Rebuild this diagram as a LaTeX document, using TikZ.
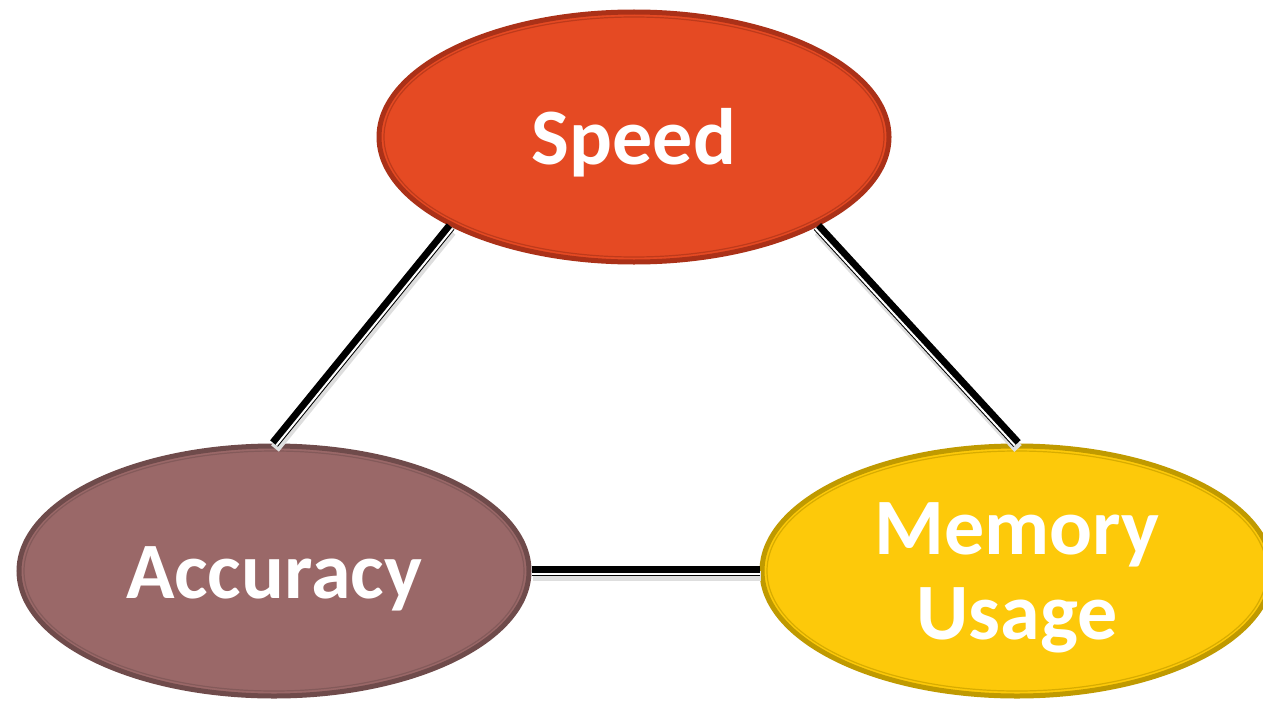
\documentclass[tikz,border=0pt]{standalone}
\usepackage{fontspec}
\setmainfont{Carlito}
\usetikzlibrary{shapes.geometric}
\definecolor{speedfill}{HTML}{E54A23}
\definecolor{speedrim}{HTML}{AB3118}
\definecolor{speedline}{HTML}{BE3A1B}
\definecolor{accfill}{HTML}{9A6868}
\definecolor{accrim}{HTML}{6F4B4B}
\definecolor{accline}{HTML}{845A5A}
\definecolor{memfill}{HTML}{FDC90A}
\definecolor{memrim}{HTML}{C09A00}
\definecolor{memline}{HTML}{D8AC00}
% black bar, white stripe on one side, soft shadow under it
\newcommand\tradeoff[3]{%
  \draw[shade] ([shift={(1,5)}]#1) -- ([shift={(1,5)}]#2);
  \draw[link] (#1) -- (#2);
  \draw[stripe] ([shift={#3}]#1) -- ([shift={#3}]#2);}
\begin{document}
\begin{tikzpicture}[x=1pt,y=-1pt,
  blob/.style={ellipse,line width=5pt,minimum width=510pt,minimum height=250pt,
    inner sep=0pt,text=white,align=center,
    font=\fontsize{80}{85}\selectfont\bfseries},
  link/.style={line width=10pt},
  stripe/.style={white,line width=2pt},
  shade/.style={black!13,line width=10pt}]
\useasboundingbox (0,0) rectangle (1263,701);
\def\rx{250}
\def\ry{120}
\def\up{\rule{0pt}{68pt}}
% the three goals
\node[blob,fill=speedfill,draw=speedrim] (speed) at (634,137) {\up Speed};
\node[blob,fill=accfill,draw=accrim] (acc) at (274,571) {\up Accuracy};
\node[blob,fill=memfill,draw=memrim] (mem) at (1017,571) {\rule{0pt}{66pt}Memory\\Usage};
\draw[speedline,line width=1.2pt] (speed.center) ellipse [x radius=\rx,y radius=\ry];
\draw[accline,line width=1.2pt] (acc.center) ellipse [x radius=\rx,y radius=\ry];
\draw[memline,line width=1.2pt] (mem.center) ellipse [x radius=\rx,y radius=\ry];
% trade-offs
\tradeoff{speed.206}{acc.north}{(2.3,1.9)}
\tradeoff{speed.334}{mem.north}{(-2.2,2)}
\tradeoff{acc.east}{mem.west}{(0,3)}
\end{tikzpicture}
\end{document}
